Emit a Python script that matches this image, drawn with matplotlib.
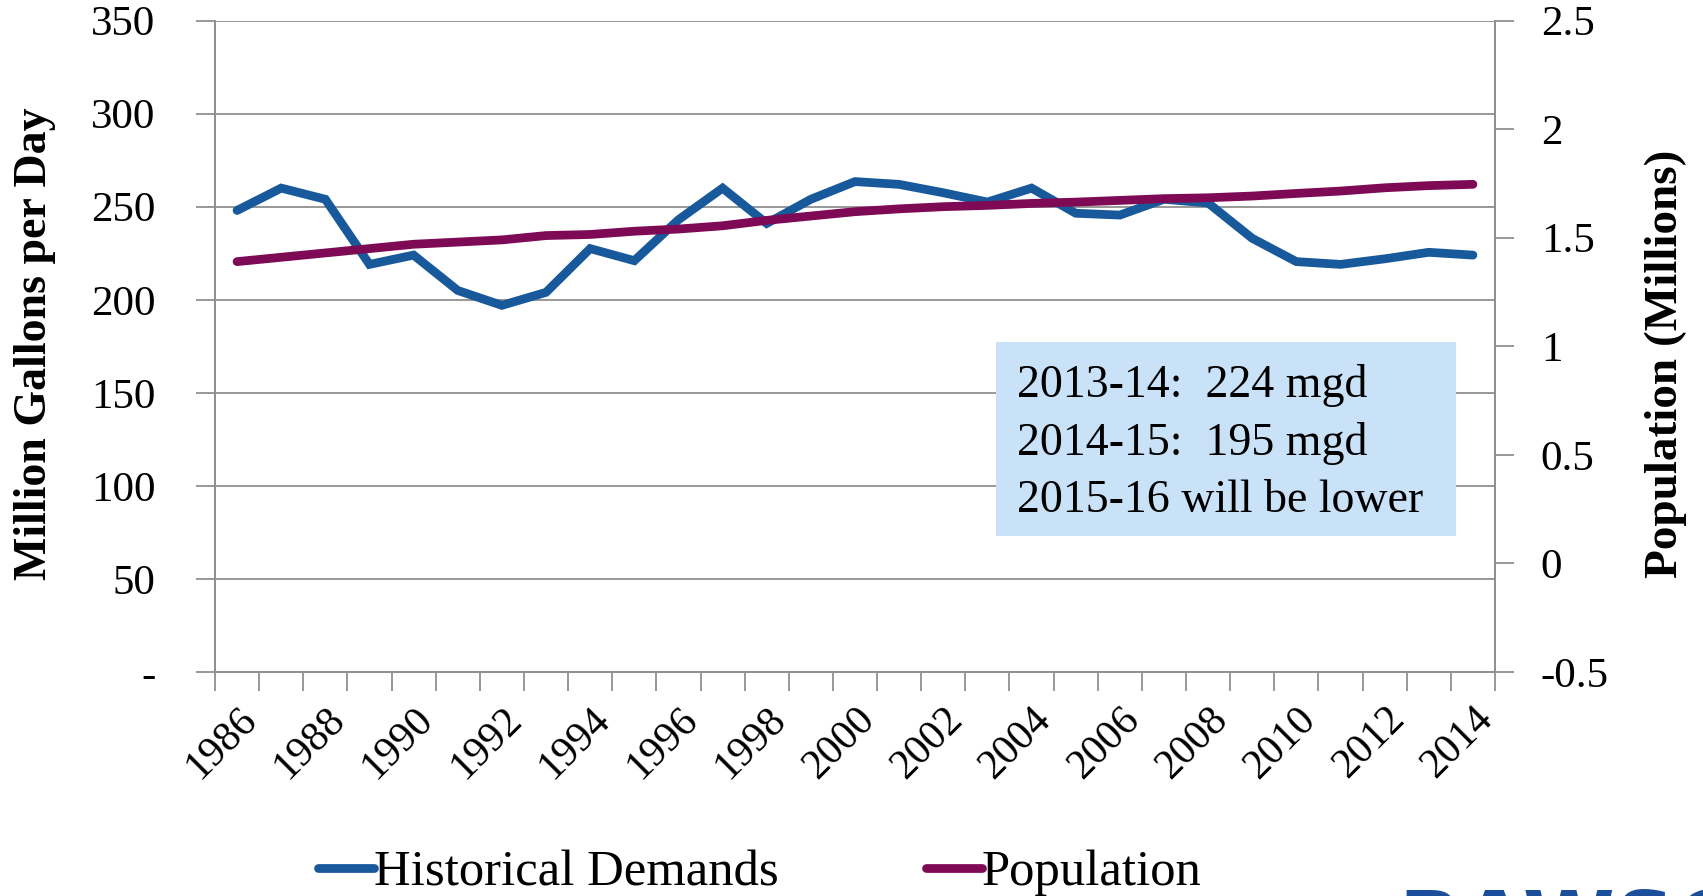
import matplotlib
matplotlib.use("Agg")
import matplotlib.pyplot as plt
from matplotlib.patches import Rectangle
import numpy as np

years = list(range(1986, 2015))
demands = [248, 260, 254, 219, 224, 205, 197, 204, 227.5, 221, 243, 260, 241, 254,
           263.5, 262, 257.5, 252.5, 260, 246.5, 245.5, 254, 252, 233, 220.5, 219,
           222, 225.5, 224]
population = [1.39, 1.41, 1.43, 1.45, 1.47, 1.48, 1.49, 1.51, 1.515, 1.53, 1.54,
              1.555, 1.58, 1.60, 1.62, 1.633, 1.643, 1.649, 1.658, 1.664, 1.672,
              1.68, 1.684, 1.692, 1.704, 1.715, 1.73, 1.74, 1.746]
left_ticks = [0, 50, 100, 150, 200, 250, 300, 350]
left_labels = ["-", "50", "100", "150", "200", "250", "300", "350"]
right_ticks = [-0.5, 0, 0.5, 1, 1.5, 2, 2.5]
right_labels = ["-0.5", "0", "0.5", "1", "1.5", "2", "2.5"]
note_lines = ["2013-14:  224 mgd", "2014-15:  195 mgd", "2015-16 will be lower"]

BLUE = "#17599B"
PURPLE = "#7E0A56"
GRAY = "#909090"
SERIF = ["Liberation Serif", "DejaVu Serif"]

plt.rcParams['font.family'] = SERIF

W, H = 1703, 896
fig = plt.figure(figsize=(W / 100, H / 100), dpi=100)
ax_l, ax_r, ax_t, ax_b = 215, 1495, 20.6, 672
ax = fig.add_axes([ax_l / W, 1 - ax_b / H, (ax_r - ax_l) / W, (ax_b - ax_t) / H])
ax2 = ax.twinx()

x = np.arange(len(years))
l1, = ax.plot(x, demands, color=BLUE, lw=6.3, solid_capstyle='round',
              solid_joinstyle='miter', label="Historical Demands", zorder=3)
l2, = ax2.plot(x, population, color=PURPLE, lw=6.3, solid_capstyle='round',
               label="Population", zorder=3)

ax.set_xlim(-0.5, len(years) - 0.5)
ax.set_ylim(0, 350)
ax2.set_ylim(-0.5, 2.5)

# gridlines
ax.set_yticks(left_ticks)
ax.set_yticklabels(left_labels)
ax.yaxis.grid(True, color=GRAY, lw=1.3)
ax.set_axisbelow(True)

# x ticks
ax.set_xticks(np.arange(-0.5, len(years), 1.0), minor=True)
ax.set_xticks(x[::2])
ax.set_xticklabels([str(y) for y in years[::2]], rotation=45, ha='right',
                   rotation_mode='anchor', fontsize=30)
ax.tick_params(axis='x', which='major', length=0, pad=20)
ax.tick_params(axis='x', which='minor', length=14, width=1.3, color=GRAY)
ax.tick_params(axis='y', which='major', length=14, width=1.3, color=GRAY,
               labelsize=31, pad=29)

ax2.set_yticks(right_ticks)
ax2.set_yticklabels(right_labels)
ax2.tick_params(axis='y', length=14, width=1.3, color=GRAY, labelsize=31, pad=19)

for a in (ax, ax2):
    for s in a.spines.values():
        s.set_color(GRAY)
        s.set_linewidth(1.3)
    a.spines['top'].set_visible(False)

ax.set_ylabel("Million Gallons per Day", fontsize=33, fontweight='bold')
ax.yaxis.set_label_coords(-0.124, 0.5035)
ax2.set_ylabel("Population (Millions)", fontsize=34, fontweight='bold', rotation=90)
ax2.yaxis.set_label_coords(1.117, 0.473)

# annotation box
bx0, by0, bx1, by1 = 996, 342, 1456, 536
fig.add_artist(Rectangle((bx0 / W, 1 - by1 / H), (bx1 - bx0) / W, (by1 - by0) / H,
                         transform=fig.transFigure, facecolor="#C9E2F8",
                         edgecolor='none', zorder=5))
for i, line in enumerate(note_lines):
    fig.text(1017 / W, 1 - (397 + 57.5 * i) / H, line, fontsize=33,
             va='baseline', ha='left', color='black', zorder=6)

# legend
leg = fig.legend(handles=[l1, l2], loc='center', ncol=2,
                 bbox_to_anchor=(760 / W, 1 - 873 / H), frameon=False,
                 fontsize=36.5, handlelength=1.1, handletextpad=0.0,
                 columnspacing=2.9, borderpad=0)

# partially visible logo
fig.text(1398 / W, 1 - 887 / H, "RAWSC", fontsize=60, fontweight='bold',
         family="DejaVu Sans", color="#1B4F9C", va='top', ha='left')

fig.savefig("out.png", dpi=100)
